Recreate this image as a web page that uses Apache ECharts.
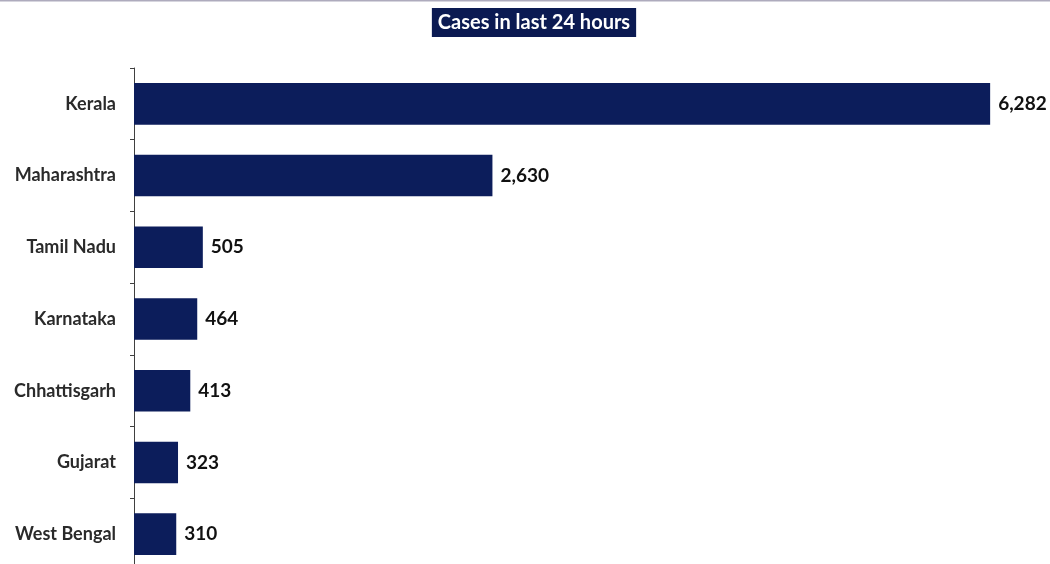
<!DOCTYPE html>
<html>
<head>
<meta charset="utf-8">
<script src="https://cdn.jsdelivr.net/npm/echarts@6/dist/echarts.min.js"></script>
<style>
html,body{margin:0;padding:0;background:#fff;}
#chart{width:1050px;height:564px;}
</style>
</head>
<body>
<div id="chart"></div>
<script>
const titleText = 'Cases in last 24 hours';
const states = ['Kerala', 'Maharashtra', 'Tamil Nadu', 'Karnataka', 'Chhattisgarh', 'Gujarat', 'West Bengal'];
const cases = [6282, 2630, 505, 464, 413, 323, 310];

const chart = echarts.init(document.getElementById('chart'));
chart.setOption({
  animation: false,
  backgroundColor: '#ffffff',
  graphic: [{
    type: 'rect', left: 0, top: 0, silent: true,
    shape: { width: 1050, height: 1.5 },
    style: { fill: '#aeabbd' }
  }],
  title: {
    text: titleText,
    left: 528,
    textAlign: 'center',
    top: 8,
    padding: [5, 6, 4, 6],
    backgroundColor: '#0b1a52',
    textStyle: { color: '#ffffff', fontFamily: 'Lato', fontWeight: 'bold', fontSize: 20 }
  },
  grid: { left: 134, top: 68, width: 954, bottom: -6, containLabel: false, outerBoundsMode: 'none' },
  xAxis: {
    type: 'value', min: 0, max: 7000, show: false, splitLine: { show: false }
  },
  yAxis: {
    type: 'category',
    data: states,
    inverse: true,
    axisLine: { show: true, lineStyle: { color: '#404040', width: 1 } },
    axisTick: { show: true, length: 4, lineStyle: { color: '#404040' } },
    axisLabel: { margin: 18, color: '#2a2a2a', fontFamily: 'Lato', fontWeight: 'bold', fontSize: 18 }
  },
  series: [{
    type: 'bar',
    data: cases,
    barCategoryGap: '42%',
    itemStyle: { color: '#0c1d5b' },
    label: {
      show: true, position: 'right', distance: 8,
      color: '#111111', fontFamily: 'Lato', fontWeight: 'bold', fontSize: 19,
      formatter: p => p.value.toLocaleString('en-US')
    }
  }]
});
</script>
</body>
</html>
